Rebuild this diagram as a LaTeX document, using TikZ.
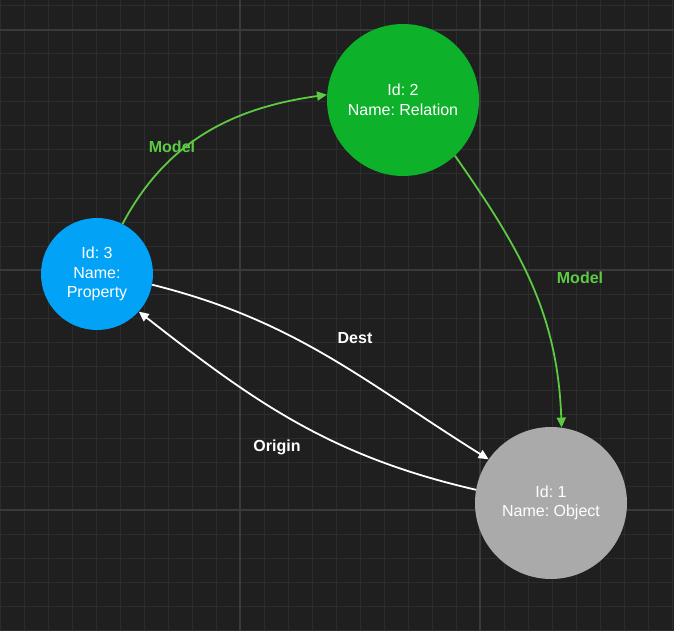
\documentclass[tikz,border=0pt]{standalone}
\usepackage{fontspec}
\setmainfont{Liberation Sans}
\usetikzlibrary{arrows.meta}
\definecolor{bgdark}{HTML}{1F1F1F}
\definecolor{gridminor}{HTML}{2C2C2C}
\definecolor{gridmajor}{HTML}{3A3A3A}
\definecolor{propblue}{HTML}{02A3F7}
\definecolor{relgreen}{HTML}{0EB12A}
\definecolor{objgray}{HTML}{AAAAAA}
\definecolor{modelgreen}{HTML}{5CCB43}

\begin{document}
\frenchspacing
\begin{tikzpicture}[
    x=1pt, y=-1pt,
    entity/.style={circle, inner sep=0pt, align=center, text=white, font=\fontsize{16}{19.5}\selectfont},
    link/.style={-{Triangle[length=10pt, width=9pt]}, line width=1.8pt},
    tag/.style={font=\fontsize{16}{18}\selectfont\bfseries}
]

% Background and grid
\useasboundingbox (0,0) rectangle (674,631);
\fill[bgdark] (0,0) rectangle (674,631);
\foreach \x in {0,24,...,672} \draw[gridminor, line width=1pt] (\x,0) -- (\x,631);
\foreach \y in {6,30,...,630} \draw[gridminor, line width=1pt] (0,\y) -- (674,\y);
\foreach \x in {240,480} \draw[gridmajor, line width=1.2pt] (\x,0) -- (\x,631);
\foreach \y in {30,270,510} \draw[gridmajor, line width=1.2pt] (0,\y) -- (674,\y);

% Entities
\node[entity, fill=propblue, minimum size=112pt] (prop) at (97,274) {Id: 3\\Name:\\Property};
\node[entity, fill=relgreen, minimum size=152pt] (rel) at (403,100) {Id: 2\\Name: Relation};
\node[entity, fill=objgray, minimum size=152pt] (obj) at (551,503) {Id: 1\\Name: Object};

% Model links
\draw[link, modelgreen] (prop.63) to[out=62, in=188] (rel.176);
\draw[link, modelgreen] (rel.-47) to[out=-55, in=92] (obj.82);
\node[tag, text=modelgreen] (model1) at (172,147) {Model};
\node[tag, text=modelgreen] (model2) at (580,278) {Model};

% Dest / Origin links
\draw[link, white] (prop.-11) to[out=-14, in=148] (obj.145);
\draw[link, white] (obj.170) to[out=167, in=-38] (prop.-42);
\node[tag, text=white] (dest) at (355,338) {Dest};
\node[tag, text=white] (origin) at (277,447) {Origin};

\end{tikzpicture}
\end{document}
